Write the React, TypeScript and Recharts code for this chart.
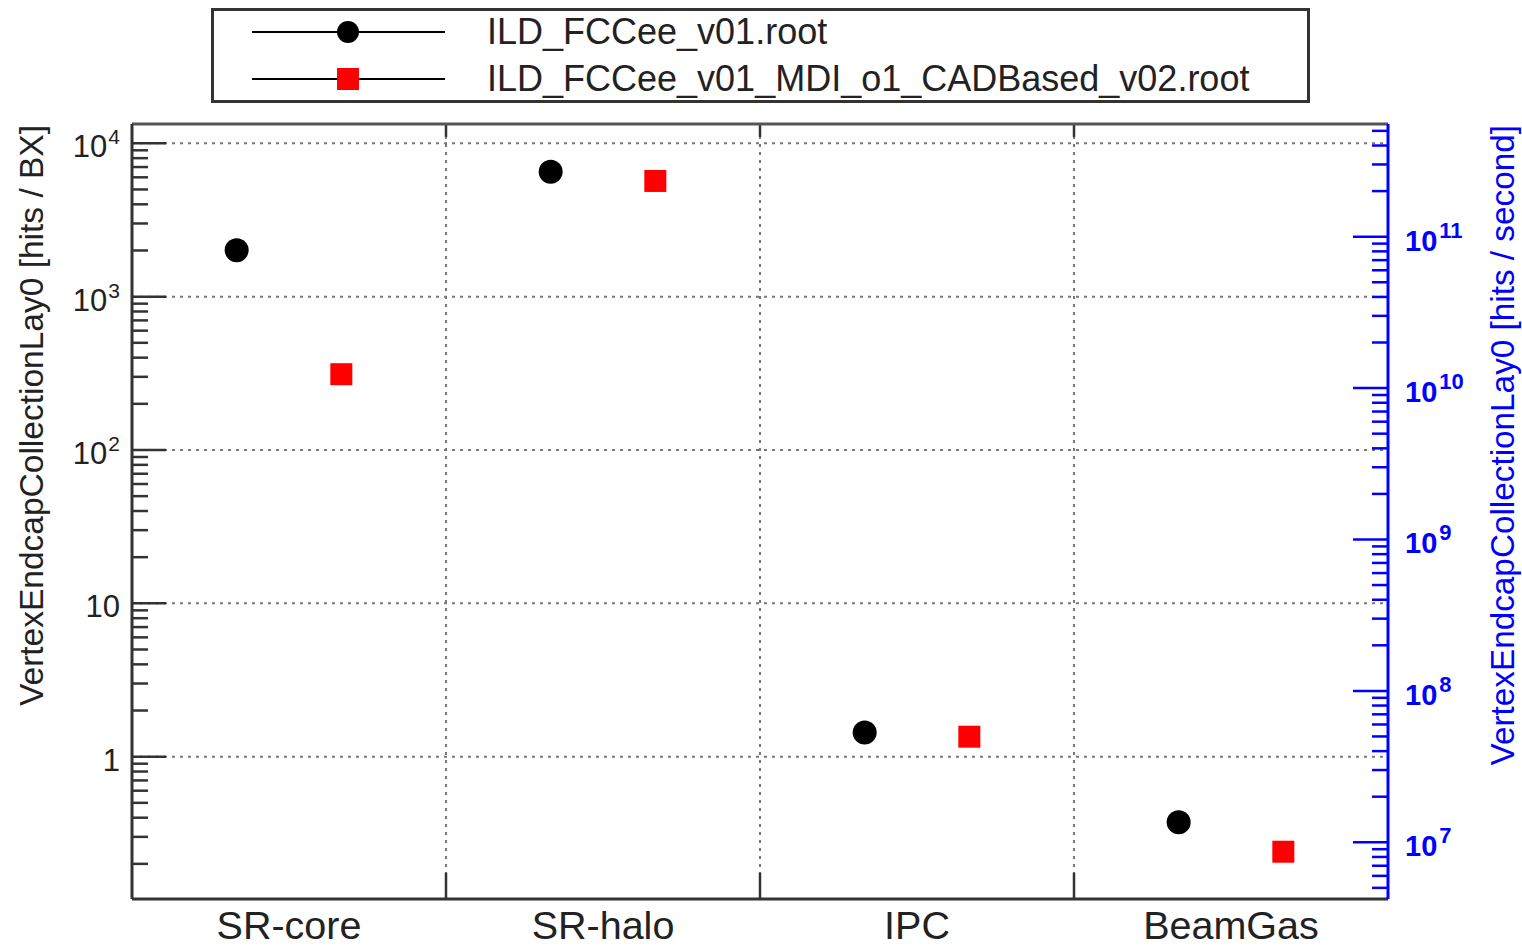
import { ScatterChart, Scatter, XAxis, YAxis, ReferenceLine, Legend } from "recharts";

// categories on the x axis
const categories = ["SR-core", "SR-halo", "IPC", "BeamGas"];

// two input files compared
const seriesNames = ["ILD_FCCee_v01.root", "ILD_FCCee_v01_MDI_o1_CADBased_v02.root"];

// hits / BX
const v01Hits = [2010, 6530, 1.44, 0.373];
const cadHits = [312, 5680, 1.35, 0.24];

// left axis (hits / BX)
const leftDomain = [0.118, 13360];
const leftDecades = [1, 10, 100, 1000, 10000];
const leftBase = ["1", "10", "10", "10", "10"];
const leftExp = ["", "", "2", "3", "4"];
const leftMinorBases = [0.1, 1, 10, 100, 1000, 10000];

// right axis (hits / second)
const rightDomain = [4.22e6, 5.55e11];
const rightDecades = [1e7, 1e8, 1e9, 1e10, 1e11];
const rightExp = ["7", "8", "9", "10", "11"];
const rightMinorBases = [1e6, 1e7, 1e8, 1e9, 1e10, 1e11];

const minorSteps = [2, 3, 4, 5, 6, 7, 8, 9];
const binEdges = [1, 2, 3];

const FONT = "'Liberation Sans', Arial, Helvetica, sans-serif";
const AXIS = "#333";
const BLUE = "#0000ff";

function buildTicks(decades: number[], bases: number[], domain: number[]) {
  const minors: number[] = [];
  bases.forEach((b) =>
    minorSteps.forEach((m) => {
      const v = b * m;
      if (v > domain[0] && v < domain[1]) minors.push(v);
    })
  );
  return [...decades, ...minors].sort((a, b) => a - b);
}

const leftTicks = buildTicks(leftDecades, leftMinorBases, leftDomain);
const rightTicks = buildTicks(rightDecades, rightMinorBases, rightDomain);

const v01Data = categories.map((c, i) => ({ cat: c, x: i + 1 / 3, y: v01Hits[i] }));
const cadData = categories.map((c, i) => ({ cat: c, x: i + 2 / 3, y: cadHits[i] }));

function LeftTick(props: any) {
  const { x, y, payload } = props;
  const idx = leftDecades.indexOf(payload.value);
  const major = idx >= 0;
  return (
    <g>
      <line x1={x} x2={x + (major ? 34 : 16)} y1={y} y2={y} stroke={AXIS} strokeWidth={2.5} />
      {major && (
        <text x={x - 12} y={y + 14} textAnchor="end" fontSize={31} fill="#222" fontFamily={FONT}>
          {leftBase[idx]}
          {leftExp[idx] && (
            <tspan dx={1} dy={-13} fontSize={21}>
              {leftExp[idx]}
            </tspan>
          )}
        </text>
      )}
    </g>
  );
}

function RightTick(props: any) {
  const { x, y, payload } = props;
  const idx = rightDecades.indexOf(payload.value);
  const major = idx >= 0;
  return (
    <g>
      <line x1={x} x2={x - (major ? 35 : 16)} y1={y} y2={y} stroke={BLUE} strokeWidth={2.5} />
      {major && (
        <text
          x={x + 17}
          y={y + 14}
          textAnchor="start"
          fontSize={29}
          fontWeight="bold"
          fill={BLUE}
          fontFamily={FONT}
        >
          10
          <tspan dx={2} dy={-13} fontSize={22}>
            {rightExp[idx]}
          </tspan>
        </text>
      )}
    </g>
  );
}

function CategoryTick(props: any) {
  const { x, y, payload } = props;
  return (
    <text x={x} y={y + 40} textAnchor="middle" fontSize={39.5} fill="#222" fontFamily={FONT}>
      {categories[Math.floor(payload.value)]}
    </text>
  );
}

function LeftTitle(props: any) {
  const { viewBox } = props;
  return (
    <text
      transform={`translate(${viewBox.x + 43},${viewBox.y + 1}) rotate(-90)`}
      textAnchor="end"
      fontSize={33.5}
      fill="#222"
      fontFamily={FONT}
    >
      VertexEndcapCollectionLay0 [hits / BX]
    </text>
  );
}

function RightTitle(props: any) {
  const { viewBox } = props;
  return (
    <text
      transform={`translate(${viewBox.x + 126},${viewBox.y + 1}) rotate(-90)`}
      textAnchor="end"
      fontSize={33.3}
      fill={BLUE}
      fontFamily={FONT}
    >
      VertexEndcapCollectionLay0 [hits / second]
    </text>
  );
}

const Dot = (props: any) => <circle cx={props.cx} cy={props.cy} r={12} fill="#000" />;
const Square = (props: any) => (
  <rect x={props.cx - 11} y={props.cy - 11} width={22} height={22} fill="#ff0000" />
);

function LegendBox() {
  const rows = [24, 71];
  return (
    <svg width={1100} height={96} style={{ display: "block" }}>
      <rect x={1.5} y={1.5} width={1096} height={92} fill="#fff" stroke={AXIS} strokeWidth={3} />
      {seriesNames.map((name, i) => (
        <g key={name}>
          <line x1={41} x2={234} y1={rows[i]} y2={rows[i]} stroke="#000" strokeWidth={2} />
          {i === 0 ? (
            <circle cx={137} cy={rows[i]} r={11} fill="#000" />
          ) : (
            <rect x={126} y={rows[i] - 11} width={22} height={22} fill="#ff0000" />
          )}
          <text x={276} y={rows[i] + 12} fontSize={36} fill="#222" fontFamily={FONT}>
            {name}
          </text>
        </g>
      ))}
    </svg>
  );
}

export default function App() {
  return (
    <div style={{ position: "absolute", left: 0, top: 0, width: 1522, height: 947, background: "#fff" }}>
      <ScatterChart width={1522} height={947} margin={{ top: 124, right: 0, bottom: 0, left: 0 }}>
        <XAxis
          type="number"
          dataKey="x"
          domain={[0, 4]}
          ticks={[0.5, 1.5, 2.5, 3.5]}
          interval={0}
          height={48}
          tickSize={0}
          tickMargin={0}
          tickLine={false}
          tick={<CategoryTick />}
          axisLine={{ stroke: AXIS, strokeWidth: 3 }}
        />
        <YAxis
          yAxisId="left"
          type="number"
          dataKey="y"
          scale="log"
          domain={leftDomain}
          allowDataOverflow
          ticks={leftTicks}
          interval={0}
          width={132}
          tickSize={0}
          tickMargin={0}
          tickLine={false}
          tick={<LeftTick />}
          axisLine={{ stroke: AXIS, strokeWidth: 3 }}
          label={<LeftTitle />}
        />
        <YAxis
          yAxisId="right"
          orientation="right"
          type="number"
          scale="log"
          domain={rightDomain}
          allowDataOverflow
          ticks={rightTicks}
          interval={0}
          width={134}
          tickSize={0}
          tickMargin={0}
          tickLine={false}
          tick={<RightTick />}
          axisLine={{ stroke: BLUE, strokeWidth: 3 }}
          label={<RightTitle />}
        />
        {leftDecades.map((d) => (
          <ReferenceLine
            key={`h${d}`}
            yAxisId="left"
            y={d}
            stroke="#777"
            strokeWidth={2}
            strokeDasharray="3 5"
          />
        ))}
        {binEdges.map((e) => (
          <ReferenceLine
            key={`v${e}`}
            yAxisId="left"
            x={e}
            stroke="#777"
            strokeWidth={2}
            strokeDasharray="3 5"
          />
        ))}
        {binEdges.map((e) => (
          <ReferenceLine
            key={`b${e}`}
            yAxisId="left"
            segment={[
              { x: e, y: leftDomain[0] },
              { x: e, y: 0.175 },
            ]}
            stroke={AXIS}
            strokeWidth={2.5}
          />
        ))}
        {binEdges.map((e) => (
          <ReferenceLine
            key={`t${e}`}
            yAxisId="left"
            segment={[
              { x: e, y: leftDomain[1] },
              { x: e, y: 11000 },
            ]}
            stroke={AXIS}
            strokeWidth={2.5}
          />
        ))}
        <ReferenceLine yAxisId="left" y={leftDomain[1]} stroke="#555" strokeWidth={3} />
        <Scatter
          name={seriesNames[0]}
          yAxisId="left"
          data={v01Data}
          dataKey="y"
          shape={Dot}
          isAnimationActive={false}
        />
        <Scatter
          name={seriesNames[1]}
          yAxisId="left"
          data={cadData}
          dataKey="y"
          shape={Square}
          isAnimationActive={false}
        />
        <Legend
          layout="horizontal"
          verticalAlign="middle"
          align="center"
          wrapperStyle={{ position: "absolute", left: 211, top: 8, width: 1100, height: 96 }}
          content={() => <LegendBox />}
        />
      </ScatterChart>
    </div>
  );
}
